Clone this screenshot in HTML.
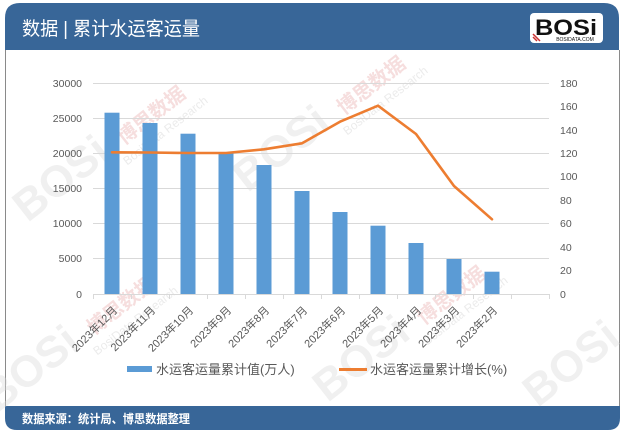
<!DOCTYPE html>
<html><head><meta charset="utf-8"><style>
html,body{margin:0;padding:0;background:#fff;}
svg{display:block;}
</style></head><body>
<svg width="623" height="433" viewBox="0 0 623 433" xmlns="http://www.w3.org/2000/svg" font-family="'Liberation Sans','Noto Sans CJK SC',sans-serif">
<rect x="0" y="0" width="623" height="433" fill="#fff"/>
<!-- frame -->
<path d="M5.5,50 L5.5,406 M619.5,50 L619.5,406" stroke="#8a8a8a" stroke-width="1" fill="none"/>
<path d="M5,50 L5,18 Q5,3 20,3 L604,3 Q619,3 619,18 L619,50 Z" fill="#386698"/>
<path d="M5,406 L620,406 L620,418 Q620,430 608,430 L17,430 Q5,430 5,418 Z" fill="#386698"/>
<text x="22" y="35" font-size="19" fill="#fff" textLength="178" lengthAdjust="spacingAndGlyphs">数据 | 累计水运客运量</text>
<text x="22" y="423" font-size="12" font-weight="bold" fill="#fff" textLength="168" lengthAdjust="spacingAndGlyphs">数据来源：统计局、博思数据整理</text>
<!-- logo -->
<rect x="530" y="13" width="73" height="30" rx="4" fill="#fff"/>
<text x="566" y="35" font-size="22" font-weight="bold" fill="#111" text-anchor="middle" textLength="62" lengthAdjust="spacingAndGlyphs" font-family="'Liberation Sans',sans-serif">BOSi</text>
<text x="575" y="41" font-size="5" fill="#111" text-anchor="middle">BOSIDATA.COM</text>
<path d="M533,34 L540,41 M533,37 L537,41" stroke="#c33" stroke-width="1.5"/>

<!-- watermarks -->
<g opacity="0.42">
<g transform="translate(70,190) rotate(-38)"><text x="0" y="0" font-size="44" font-weight="bold" fill="#dcdcdc" text-anchor="middle">BOSi</text><text x="70" y="-2" font-size="20" font-weight="bold" fill="#eab0b0">博思数据</text><text x="60" y="16" font-size="12" fill="#d0d0d0">BosiData Research</text></g>
<g transform="translate(290,160) rotate(-38)"><text x="0" y="0" font-size="44" font-weight="bold" fill="#dcdcdc" text-anchor="middle">BOSi</text><text x="70" y="-2" font-size="20" font-weight="bold" fill="#eab0b0">博思数据</text><text x="60" y="16" font-size="12" fill="#d0d0d0">BosiData Research</text></g>
<g transform="translate(40,380) rotate(-38)"><text x="0" y="0" font-size="44" font-weight="bold" fill="#dcdcdc" text-anchor="middle">BOSi</text><text x="70" y="-2" font-size="20" font-weight="bold" fill="#eab0b0">博思数据</text><text x="60" y="16" font-size="12" fill="#d0d0d0">BosiData Research</text></g>
<g transform="translate(370,370) rotate(-38)"><text x="0" y="0" font-size="44" font-weight="bold" fill="#dcdcdc" text-anchor="middle">BOSi</text><text x="70" y="-2" font-size="20" font-weight="bold" fill="#eab0b0">博思数据</text><text x="60" y="16" font-size="12" fill="#d0d0d0">BosiData Research</text></g>
<g transform="translate(580,375) rotate(-38)"><text x="0" y="0" font-size="44" font-weight="bold" fill="#dcdcdc" text-anchor="middle">BOSi</text></g>
</g>

<!-- gridlines -->
<g stroke="#d9d9d9" stroke-width="1">
<line x1="93" y1="83.5" x2="549" y2="83.5"/>
<line x1="93" y1="118.5" x2="549" y2="118.5"/>
<line x1="93" y1="153.5" x2="549" y2="153.5"/>
<line x1="93" y1="188.5" x2="549" y2="188.5"/>
<line x1="93" y1="223.5" x2="549" y2="223.5"/>
<line x1="93" y1="258.5" x2="549" y2="258.5"/>
<line x1="93" y1="294.5" x2="549" y2="294.5"/>
<path d="M93.5,294 V299 M131.5,294 V299 M169.5,294 V299 M207.5,294 V299 M245.5,294 V299 M283.5,294 V299 M321.5,294 V299 M359.5,294 V299 M397.5,294 V299 M435.5,294 V299 M473.5,294 V299 M511.5,294 V299 M549.5,294 V299"/>
</g>
<!-- bars -->
<g fill="#5b9bd5">
<rect x="104.5" y="112.7" width="15" height="181.3"/>
<rect x="142.5" y="123" width="15" height="171"/>
<rect x="180.5" y="133.7" width="15" height="160.3"/>
<rect x="218.5" y="153.3" width="15" height="140.7"/>
<rect x="256.5" y="165" width="15" height="129"/>
<rect x="294.5" y="191" width="15" height="103"/>
<rect x="332.5" y="212" width="15" height="82"/>
<rect x="370.5" y="225.7" width="15" height="68.3"/>
<rect x="408.5" y="243" width="15" height="51"/>
<rect x="446.5" y="259" width="15" height="35"/>
<rect x="484.5" y="271.7" width="15" height="22.3"/>
</g>
<!-- line -->
<polyline points="112,152.3 150,152.5 188,153 226,153 264,149.3 302,143.3 340,121.7 378,105.7 416,134 454,186 492,219.3" fill="none" stroke="#ed7d31" stroke-width="2.6" stroke-linejoin="round" stroke-linecap="round"/>

<!-- left axis labels -->
<g font-size="10.5" fill="#595959" text-anchor="end">
<text x="82" y="87">30000</text>
<text x="82" y="122">25000</text>
<text x="82" y="157">20000</text>
<text x="82" y="192">15000</text>
<text x="82" y="227">10000</text>
<text x="82" y="262">5000</text>
<text x="82" y="298">0</text>
</g>
<!-- right axis labels -->
<g font-size="10.5" fill="#595959" text-anchor="start">
<text x="560" y="87">180</text>
<text x="560" y="110">160</text>
<text x="560" y="134">140</text>
<text x="560" y="157">120</text>
<text x="560" y="180">100</text>
<text x="560" y="204">80</text>
<text x="560" y="227">60</text>
<text x="560" y="251">40</text>
<text x="560" y="274">20</text>
<text x="560" y="298">0</text>
</g>
<!-- x labels -->
<g font-size="11" fill="#595959" text-anchor="end">
<text transform="translate(118,311) rotate(-45)">2023年12月</text>
<text transform="translate(156,311) rotate(-45)">2023年11月</text>
<text transform="translate(194,311) rotate(-45)">2023年10月</text>
<text transform="translate(232,311) rotate(-45)">2023年9月</text>
<text transform="translate(270,311) rotate(-45)">2023年8月</text>
<text transform="translate(308,311) rotate(-45)">2023年7月</text>
<text transform="translate(346,311) rotate(-45)">2023年6月</text>
<text transform="translate(384,311) rotate(-45)">2023年5月</text>
<text transform="translate(422,311) rotate(-45)">2023年4月</text>
<text transform="translate(460,311) rotate(-45)">2023年3月</text>
<text transform="translate(498,311) rotate(-45)">2023年2月</text>
</g>
<!-- legend -->
<rect x="127" y="366" width="25" height="6" fill="#5b9bd5"/>
<text x="156" y="374" font-size="13" fill="#595959">水运客运量累计值(万人)</text>
<line x1="339" y1="369.5" x2="367" y2="369.5" stroke="#ed7d31" stroke-width="3"/>
<text x="370" y="374" font-size="13" fill="#595959">水运客运量累计增长(%)</text>
</svg>
</body></html>
